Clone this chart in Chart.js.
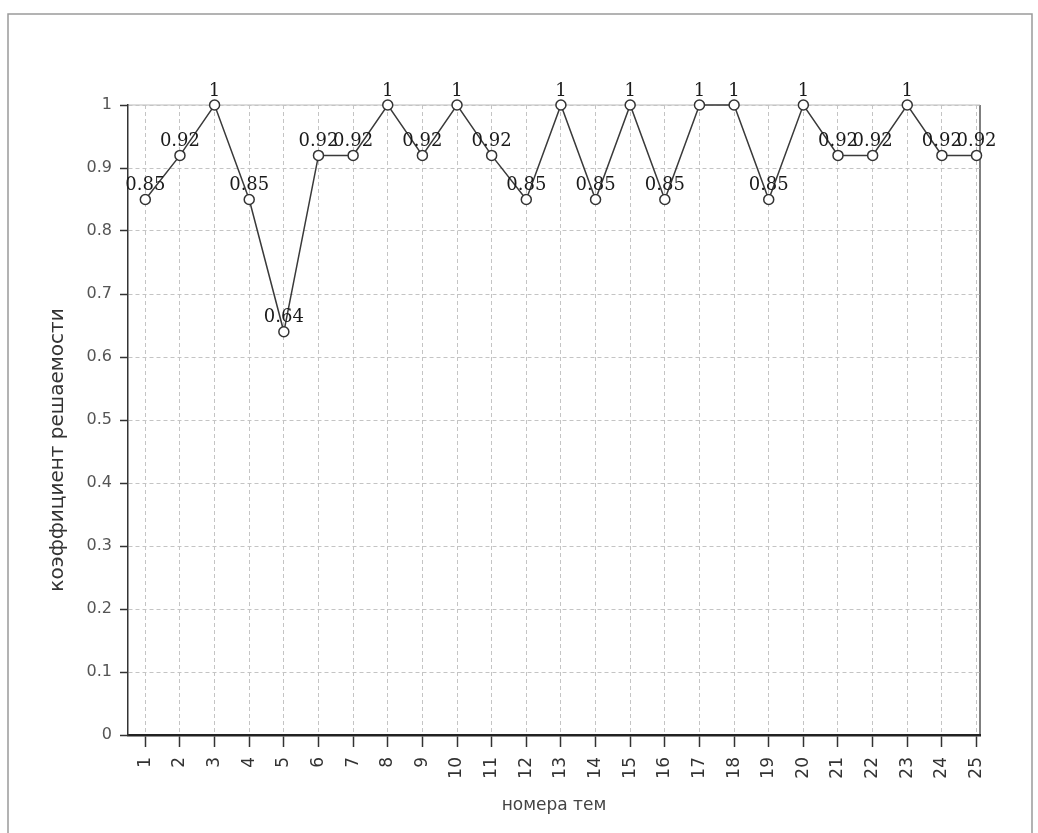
<!DOCTYPE html>
<html>
<head>
<meta charset="utf-8">
<script src="https://cdn.jsdelivr.net/npm/chart.js@4"></script>
<style>
  html, body { margin: 0; padding: 0; background: #fff; }
  #wrap { width: 1038px; height: 833px; }
</style>
</head>
<body>
<div id="wrap"><canvas id="themeChart"></canvas></div>
<script>
// номера тем и коэффициенты решаемости
const topics = [1, 2, 3, 4, 5, 6, 7, 8, 9, 10, 11, 12, 13, 14, 15, 16, 17, 18, 19, 20, 21, 22, 23, 24, 25];
const solveRate = [0.85, 0.92, 1, 0.85, 0.64, 0.92, 0.92, 1, 0.92, 1, 0.92, 0.85, 1, 0.85, 1, 0.85, 1, 1, 0.85, 1, 0.92, 0.92, 1, 0.92, 0.92];
const yTicks = [0, 0.1, 0.2, 0.3, 0.4, 0.5, 0.6, 0.7, 0.8, 0.9, 1];
const yTitle = 'коэффициент решаемости';

// frame around the whole picture + light box round the plot + y title
const framePlugin = {
    id: 'frame',
    beforeDraw(chart) {
        const ctx = chart.ctx;
        const a = chart.chartArea;
        ctx.save();
        ctx.strokeStyle = '#9a9a9a';
        ctx.lineWidth = 1.5;
        ctx.strokeRect(8, 14, 1024, 830);
        ctx.strokeStyle = '#bbbbbb';
        ctx.lineWidth = 1;
        ctx.beginPath();
        ctx.moveTo(a.left, a.top);
        ctx.lineTo(a.right, a.top);
        ctx.stroke();
        ctx.strokeStyle = '#555';
        ctx.lineWidth = 1.5;
        ctx.beginPath();
        ctx.moveTo(a.right, a.top);
        ctx.lineTo(a.right, a.bottom);
        ctx.stroke();
        // y axis title, a bit below the middle like in the scan
        ctx.translate(58, 450);
        ctx.rotate(-Math.PI / 2);
        ctx.font = '20px "DejaVu Sans"';
        ctx.fillStyle = '#333';
        ctx.textAlign = 'center';
        ctx.textBaseline = 'middle';
        ctx.fillText(yTitle, 0, 0);
        ctx.restore();
    }
};

// value labels over the markers
const valueLabels = {
    id: 'valueLabels',
    afterDatasetsDraw(chart) {
        const ctx = chart.ctx;
        const meta = chart.getDatasetMeta(0);
        ctx.save();
        ctx.font = '18px "DejaVu Serif"';
        ctx.fillStyle = '#1a1a1a';
        ctx.textAlign = 'center';
        ctx.textBaseline = 'middle';
        meta.data.forEach((pt, i) => {
            ctx.fillText(String(solveRate[i]), pt.x, pt.y - 14);
        });
        ctx.restore();
    }
};

const ctx = document.getElementById('themeChart').getContext('2d');
new Chart(ctx, {
    type: 'line',
    data: {
        datasets: [{
            data: topics.map((t, i) => ({ x: t, y: solveRate[i] })),
            borderColor: '#3a3a3a',
            borderWidth: 1.5,
            pointRadius: 5,
            pointBorderWidth: 1.5,
            pointBackgroundColor: '#fff',
            pointBorderColor: '#333',
            tension: 0,
            clip: false
        }]
    },
    options: {
        responsive: true,
        maintainAspectRatio: false,
        animation: false,
        layout: { padding: { top: 105, right: 58, left: 0, bottom: 0 } },
        plugins: {
            legend: { display: false },
            tooltip: { enabled: false }
        },
        scales: {
            x: {
                type: 'linear',
                min: 0.5,
                max: 25.1,
                afterBuildTicks: s => { s.ticks = topics.map(v => ({ value: v })); },
                afterFit: s => { s.height = 98; },
                ticks: {
                    minRotation: 90,
                    maxRotation: 90,
                    padding: 10,
                    color: '#333',
                    font: { family: 'DejaVu Sans', size: 17 },
                    callback: v => String(v)
                },
                grid: {
                    color: '#c4c4c4',
                    lineWidth: 1,
                    tickLength: 12,
                    tickColor: '#333',
                    tickWidth: 1.5
                },
                border: { color: '#222', width: 2.5, dash: [4, 3] },
                title: {
                    display: true,
                    text: 'номера тем',
                    color: '#444',
                    font: { family: 'DejaVu Sans', size: 17 },
                    padding: { top: 4, bottom: 17 }
                }
            },
            y: {
                min: 0,
                max: 1,
                afterBuildTicks: s => { s.ticks = yTicks.map(v => ({ value: v })); },
                afterFit: s => { s.width = 128; },
                ticks: {
                    padding: 8,
                    color: '#555',
                    font: { family: 'DejaVu Sans', size: 16 },
                    callback: v => String(v)
                },
                grid: {
                    color: '#c4c4c4',
                    lineWidth: 1,
                    tickLength: 8,
                    tickColor: '#333',
                    tickWidth: 1.5
                },
                border: { color: '#333', width: 1.5, dash: [4, 3] },
                title: { display: false }
            }
        }
    },
    plugins: [framePlugin, valueLabels]
});
</script>
</body>
</html>
